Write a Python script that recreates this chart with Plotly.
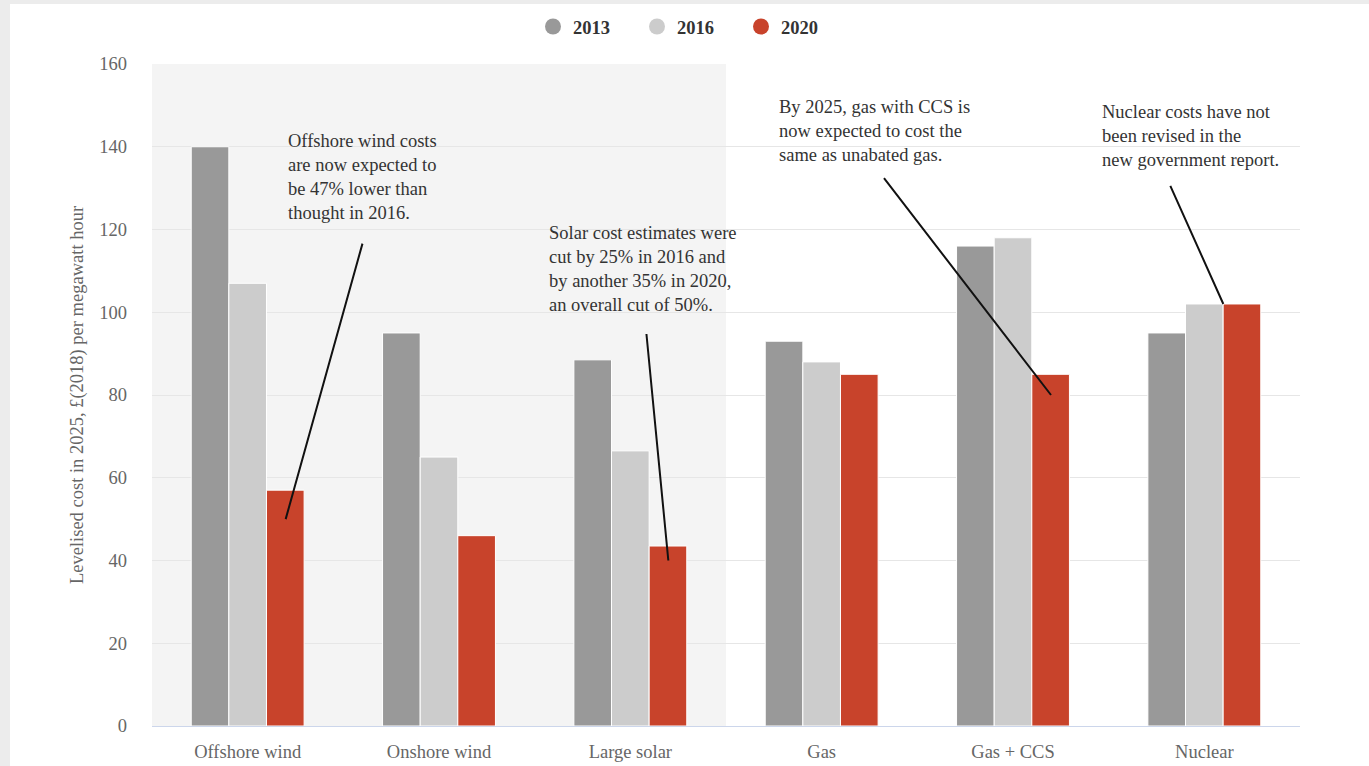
import plotly.graph_objects as go

categories = ["Offshore wind", "Onshore wind", "Large solar", "Gas", "Gas + CCS", "Nuclear"]
years = ["2013", "2016", "2020"]
values_2013 = [140, 95, 88.5, 93, 116, 95]
values_2016 = [107, 65, 66.5, 88, 118, 102]
values_2020 = [57, 46, 43.5, 85, 85, 102]
colors = ["#999999", "#cccccc", "#c8432b"]

notes = [
    "Offshore wind costs<br>are now expected to<br>be 47% lower than<br>thought in 2016.",
    "Solar cost estimates were<br>cut by 25% in 2016 and<br>by another 35% in 2020,<br>an overall cut of 50%.",
    "By 2025, gas with CCS is<br>now expected to cost the<br>same as unabated gas.",
    "Nuclear costs have not<br>been revised in the<br>new government report.",
]
note_targets = ["Offshore wind", "Large solar", "Gas + CCS", "Nuclear"]
note_target_values = [50, 40, 80, 102]

FONT = "Liberation Serif, Times New Roman, serif"
FS = 18.5

W, H = 1369, 766
L, R, T, B = 152, 69, 64, 40
PW, PH = W - L - R, H - T - B

def px(x):
    return (x - L) / PW

def py(y):
    return (H - B - y) / PH

fig = go.Figure()
for yr, vals, col in zip(years, [values_2013, values_2016, values_2020], colors):
    fig.add_trace(go.Bar(x=categories, y=vals, name=yr, marker_color=col,
                         marker_line=dict(color="white", width=1), showlegend=False))
    fig.add_trace(go.Scatter(x=[None], y=[None], mode="markers", name=yr,
                             marker=dict(symbol="circle", size=16, color=col)))

shapes = [
    dict(type="rect", xref="paper", yref="paper", x0=px(10), x1=px(W + 5), y0=py(4), y1=py(H + 5),
         fillcolor="white", line_width=0, layer="below"),
    dict(type="rect", xref="x", yref="paper", x0=-0.5, x1=2.5, y0=0, y1=1,
         fillcolor="#f4f4f4", line_width=0, layer="below"),
]

annotations = []
# text boxes
text_pos = [(286, 129), (547, 221), (777, 95), (1100, 100)]
for txt, (tx, ty) in zip(notes, text_pos):
    annotations.append(dict(text=txt, xref="paper", yref="paper", x=px(tx), y=py(ty),
                            xanchor="left", yanchor="top", align="left", showarrow=False,
                            font=dict(family=FONT, size=FS, color="#333333")))
# leader lines
arrow_shift = [38, 38, 38, 19]
arrow_tail = [(80, -287), (-23, -238), (-171, -222), (-57, -127)]
for cat, val, xs, (ax, ay) in zip(note_targets, note_target_values, arrow_shift, arrow_tail):
    annotations.append(dict(text=" ", x=cat, y=val, xref="x", yref="y", xshift=xs,
                            showarrow=True, arrowhead=0, arrowwidth=2, arrowcolor="#111111",
                            ax=ax, ay=ay, standoff=0, startstandoff=0))

fig.update_layout(
    width=W, height=H,
    margin=dict(l=L, r=R, t=T, b=B, pad=0, autoexpand=False),
    paper_bgcolor="#ececec", plot_bgcolor="white",
    barmode="group", bargap=0.41, bargroupgap=0,
    font=dict(family=FONT, size=FS, color="#666666"),
    shapes=shapes, annotations=annotations,
    legend=dict(orientation="h", x=px(533), y=py(8), xanchor="left", yanchor="top",
                font=dict(family=FONT, size=FS, color="#333333", weight="bold"),
                entrywidth=59, bgcolor="rgba(0,0,0,0)"),
    xaxis=dict(showline=True, linecolor="#ccd6eb", linewidth=1, showgrid=False, automargin=False,
               tickfont=dict(size=FS, color="#666666"), ticks="", ticklabelstandoff=9),
    yaxis=dict(range=[0, 160], dtick=20, showgrid=True, gridcolor="#e6e6e6", zeroline=False,
               automargin=False,
               tickfont=dict(size=FS, color="#666666"), ticklabelstandoff=24,
               title=dict(text="Levelised cost in 2025, £(2018) per megawatt hour",
                          font=dict(size=FS, color="#666666"), standoff=10)),
)

fig.write_html("out.html")
